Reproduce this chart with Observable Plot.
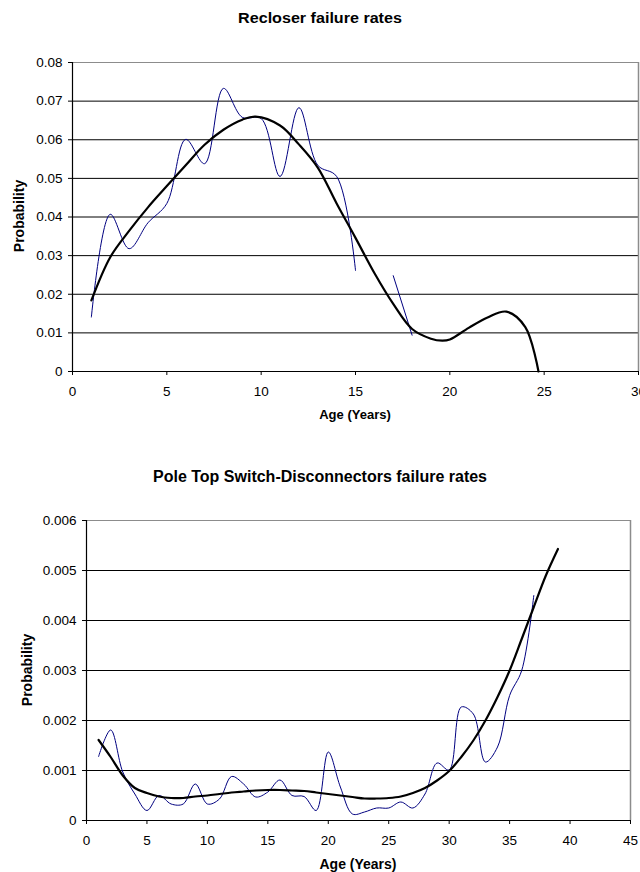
<!DOCTYPE html>
<html>
<head>
<meta charset="utf-8">
<script src="https://cdn.jsdelivr.net/npm/d3@7"></script>
<script src="https://cdn.jsdelivr.net/npm/@observablehq/plot@0.6"></script>
<style>
  body { margin: 0; background: #fff; }
  #wrap { position: relative; width: 640px; height: 872px; overflow: hidden; font-family: "Liberation Sans", Arial, sans-serif; }
  .t { position: absolute; left: 0; width: 640px; text-align: center; font-weight: bold; white-space: nowrap; }
  .ylab { position: absolute; font-weight: bold; font-size: 14px; white-space: nowrap; transform-origin: center; }
  svg { position: absolute; left: 0; }
</style>
</head>
<body>
<div id="wrap"></div>
<script>
// ---------- Chart 1: Recloser failure rates ----------
const recloserTitle = "Recloser failure rates";
const recloserAges = [1, 2, 3, 4, 5, 6, 7, 8, 9, 10, 11, 12, 13, 14, 15, 16, 17, 18];
const recloserObserved = [0.0141, 0.0407, 0.0318, 0.0385, 0.0435, 0.0601, 0.0538, 0.0733, 0.0658, 0.0655, 0.0505, 0.0683, 0.0534, 0.0505, 0.0262, null, 0.0248, 0.0094];
const recloserTrendAges = [1, 2, 3, 4, 5, 6, 7, 8, 9, 9.7, 11, 12, 13, 14, 15, 16, 17, 18, 19, 19.6, 20, 21, 22, 23, 24, 24.7];
const recloserTrend = [0.0184, 0.0296, 0.0364, 0.0425, 0.0480, 0.0534, 0.0587, 0.0626, 0.0652, 0.0660, 0.0637, 0.0588, 0.0528, 0.0435, 0.0346, 0.0255, 0.0175, 0.0110, 0.0085, 0.0080, 0.0083, 0.0113, 0.0140, 0.0155, 0.0115, 0.0];
const recloserXTicks = [0, 5, 10, 15, 20, 25, 30];
const recloserYTicks = [0, 0.01, 0.02, 0.03, 0.04, 0.05, 0.06, 0.07, 0.08];

// ---------- Chart 2: Pole Top Switch-Disconnectors failure rates ----------
const switchTitle = "Pole Top Switch-Disconnectors failure rates";
const switchAges = [1,2,3,4,5,6,7,8,9,10,11,12,13,14,15,16,17,18,19,20,21,22,23,24,25,26,27,28,29,30,31,32,33,34,35,36,37];
const switchObserved = [0.00128, 0.00181, 0.00097, 0.00053, 0.00020, 0.00050, 0.00033, 0.00033, 0.00073, 0.00033, 0.00043, 0.00088, 0.00073, 0.00047, 0.00057, 0.00081, 0.00050, 0.00048, 0.00020, 0.00137, 0.00067, 0.00013, 0.00017, 0.00025, 0.00025, 0.00037, 0.00025, 0.00053, 0.00115, 0.00101, 0.00227, 0.00213, 0.00117, 0.00147, 0.00250, 0.00300, 0.00450];
const switchTrendAges = [1,2,3,4,5,6,7,8,9,10,11,12,13,14,15,16,17,18,19,20,21,22,23,24,25,26,27,28,29,30,31,32,33,34,35,36,37,38,39];
const switchTrend = [0.00161, 0.00127, 0.00090, 0.00065, 0.00055, 0.00048, 0.00045, 0.00045, 0.00048, 0.00050, 0.00053, 0.00056, 0.00058, 0.00060, 0.00061, 0.00061, 0.00060, 0.00059, 0.00056, 0.00053, 0.00050, 0.00047, 0.00044, 0.00044, 0.00045, 0.00048, 0.00055, 0.00065, 0.00080, 0.00099, 0.00127, 0.00160, 0.00200, 0.00247, 0.00300, 0.00363, 0.00427, 0.00490, 0.00543];
const switchXTicks = [0, 5, 10, 15, 20, 25, 30, 35, 40, 45];
const switchYTicks = [0, 0.001, 0.002, 0.003, 0.004, 0.005, 0.006];

const xLabel = "Age (Years)";
const yLabel = "Probability";

const wrap = document.getElementById("wrap");
const BLUE = "#000080";

function chart({ages, observed, trendAges, trend, xTicks, yTicks, decimals, top, height, mt, mb, ml, mr}) {
  const obs = ages.map((a, i) => ({age: a, p: observed[i]}));
  const tr = trendAges.map((a, i) => ({age: a, p: trend[i]}));
  const yMax = yTicks[yTicks.length - 1];
  const xMax = xTicks[xTicks.length - 1];
  const p = Plot.plot({
    width: 640, height,
    marginTop: mt, marginBottom: mb, marginLeft: ml, marginRight: mr,
    style: {fontFamily: "'Liberation Sans', Arial, sans-serif", fontSize: "13.5px", background: "transparent", color: "#000"},
    x: {domain: [0, xMax], axis: null},
    y: {domain: [0, yMax], axis: null},
    marks: [
      Plot.ruleY(yTicks.filter(d => d > 0 && d < yMax), {stroke: "#000", strokeWidth: 1}),
      Plot.ruleY([yMax], {stroke: "#8c8c8c", strokeWidth: 1}),
      Plot.ruleX([xMax], {stroke: "#8c8c8c", strokeWidth: 1.5}),
      Plot.line(obs, {x: "age", y: "p", curve: "catmull-rom", stroke: BLUE, strokeWidth: 1}),
      Plot.line(tr, {x: "age", y: "p", curve: "catmull-rom", stroke: "#000", strokeWidth: 2.2}),
      Plot.ruleX([0], {stroke: "#000", strokeWidth: 1.2}),
      Plot.ruleY([0], {stroke: "#000", strokeWidth: 1.2}),
      Plot.axisY({ticks: yTicks, tickSize: 4, tickPadding: 6, tickFormat: d => d === 0 ? "0" : d.toFixed(decimals), label: null}),
      Plot.axisX({ticks: xTicks, tickSize: 4, tickPadding: 11, tickFormat: d => String(d), label: null})
    ]
  });
  p.style.top = top + "px";
  wrap.appendChild(p);
}

function addText(text, cls, css) {
  const d = document.createElement("div");
  d.className = cls;
  d.textContent = text;
  Object.assign(d.style, css);
  wrap.appendChild(d);
  return d;
}

// Chart 1: plot area y 62..371, x 72..638
chart({ages: recloserAges, observed: recloserObserved, trendAges: recloserTrendAges, trend: recloserTrend,
  xTicks: recloserXTicks, yTicks: recloserYTicks, decimals: 2,
  top: 0, height: 405, mt: 62, mb: 34, ml: 72, mr: 2});
addText(recloserTitle, "t", {top: "10px", fontSize: "14px", transform: "scaleX(1.15)"});
addText(xLabel, "t", {top: "407px", fontSize: "13px", left: "72px", width: "566px", textAlign: "center"});
const yl1 = addText(yLabel, "ylab", {});
yl1.style.left = (19 - yl1.offsetWidth / 2) + "px";
yl1.style.top = (216 - yl1.offsetHeight / 2) + "px";
yl1.style.transform = "rotate(-90deg)";

// Chart 2: plot area y 520..820, x 86..630
chart({ages: switchAges, observed: switchObserved, trendAges: switchTrendAges, trend: switchTrend,
  xTicks: switchXTicks, yTicks: switchYTicks, decimals: 3,
  top: 440, height: 432, mt: 80, mb: 52, ml: 86, mr: 10});
addText(switchTitle, "t", {top: "468px", fontSize: "16px"});
addText(xLabel, "t", {top: "856px", fontSize: "14px", left: "86px", width: "544px", textAlign: "center"});
const yl2 = addText(yLabel, "ylab", {});
yl2.style.left = (27 - yl2.offsetWidth / 2) + "px";
yl2.style.top = (670 - yl2.offsetHeight / 2) + "px";
yl2.style.transform = "rotate(-90deg)";
</script>
</body>
</html>
